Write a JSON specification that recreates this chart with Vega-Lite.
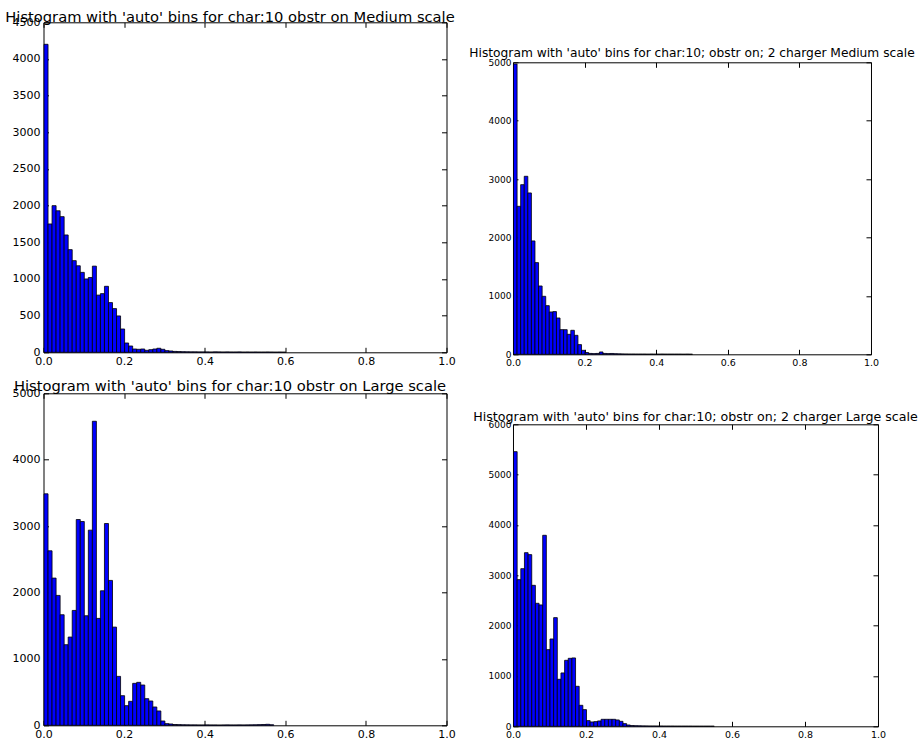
{
  "$schema": "https://vega.github.io/schema/vega-lite/v6.json",
  "background": "white",
  "padding": {"left": 4.5, "top": 8.3, "right": 2, "bottom": 2},
  "config": {
    "font": "DejaVu Sans",
    "view": {"stroke": "#000000", "strokeWidth": 1},
    "axis": {"grid": false, "domain": false, "title": null, "tickColor": "#000000", "tickWidth": 1, "tickSize": -5, "labelColor": "#000000", "labelFont": "DejaVu Sans", "labelFlush": false, "labelOverlap": false},
    "title": {"font": "DejaVu Sans", "fontWeight": "normal", "color": "#000000", "baseline": "alphabetic", "anchor": "middle"}
  },
  "datasets": {
    "p1": [
      {"b0":0.00,"b1":0.01,"n":4200},{"b0":0.01,"b1":0.02,"n":1750},{"b0":0.02,"b1":0.03,"n":2000},{"b0":0.03,"b1":0.04,"n":1930},{"b0":0.04,"b1":0.05,"n":1850},
      {"b0":0.05,"b1":0.06,"n":1600},{"b0":0.06,"b1":0.07,"n":1400},{"b0":0.07,"b1":0.08,"n":1250},{"b0":0.08,"b1":0.09,"n":1180},{"b0":0.09,"b1":0.10,"n":1090},
      {"b0":0.10,"b1":0.11,"n":1000},{"b0":0.11,"b1":0.12,"n":1020},{"b0":0.12,"b1":0.13,"n":1175},{"b0":0.13,"b1":0.14,"n":780},{"b0":0.14,"b1":0.15,"n":800},
      {"b0":0.15,"b1":0.16,"n":900},{"b0":0.16,"b1":0.17,"n":678},{"b0":0.17,"b1":0.18,"n":596},{"b0":0.18,"b1":0.19,"n":496},{"b0":0.19,"b1":0.20,"n":318},
      {"b0":0.20,"b1":0.21,"n":127},{"b0":0.21,"b1":0.22,"n":86},{"b0":0.22,"b1":0.23,"n":45},{"b0":0.23,"b1":0.24,"n":41},{"b0":0.24,"b1":0.25,"n":45},
      {"b0":0.25,"b1":0.26,"n":27},{"b0":0.26,"b1":0.27,"n":36},{"b0":0.27,"b1":0.28,"n":45},{"b0":0.28,"b1":0.29,"n":55},{"b0":0.29,"b1":0.30,"n":41},
      {"b0":0.30,"b1":0.31,"n":23},{"b0":0.31,"b1":0.32,"n":18},{"b0":0.32,"b1":0.33,"n":12},{"b0":0.33,"b1":0.34,"n":10},{"b0":0.34,"b1":0.35,"n":8},
      {"b0":0.35,"b1":0.36,"n":7},{"b0":0.36,"b1":0.37,"n":6},{"b0":0.37,"b1":0.38,"n":6},{"b0":0.38,"b1":0.39,"n":5},{"b0":0.39,"b1":0.40,"n":5},
      {"b0":0.40,"b1":0.41,"n":5},{"b0":0.41,"b1":0.42,"n":4},{"b0":0.42,"b1":0.43,"n":6},{"b0":0.43,"b1":0.44,"n":5},{"b0":0.44,"b1":0.45,"n":4},
      {"b0":0.45,"b1":0.46,"n":5},{"b0":0.46,"b1":0.47,"n":4},{"b0":0.47,"b1":0.48,"n":4},{"b0":0.48,"b1":0.49,"n":5},{"b0":0.49,"b1":0.50,"n":3},
      {"b0":0.50,"b1":0.51,"n":4},{"b0":0.51,"b1":0.52,"n":3},{"b0":0.52,"b1":0.53,"n":4},{"b0":0.53,"b1":0.54,"n":3},{"b0":0.54,"b1":0.55,"n":3},
      {"b0":0.55,"b1":0.56,"n":4},{"b0":0.56,"b1":0.57,"n":3},{"b0":0.57,"b1":0.58,"n":2},{"b0":0.58,"b1":0.59,"n":3},{"b0":0.59,"b1":0.60,"n":2}
    ],
    "p2": [
      {"b0":0.00,"b1":0.01,"n":4970},{"b0":0.01,"b1":0.02,"n":2534},{"b0":0.02,"b1":0.03,"n":2905},{"b0":0.03,"b1":0.04,"n":3048},{"b0":0.04,"b1":0.05,"n":2763},
      {"b0":0.05,"b1":0.06,"n":1941},{"b0":0.06,"b1":0.07,"n":1570},{"b0":0.07,"b1":0.08,"n":1170},{"b0":0.08,"b1":0.09,"n":993},{"b0":0.09,"b1":0.10,"n":833},
      {"b0":0.10,"b1":0.11,"n":725},{"b0":0.11,"b1":0.12,"n":731},{"b0":0.12,"b1":0.13,"n":622},{"b0":0.13,"b1":0.14,"n":422},{"b0":0.14,"b1":0.15,"n":422},
      {"b0":0.15,"b1":0.16,"n":342},{"b0":0.16,"b1":0.17,"n":411},{"b0":0.17,"b1":0.18,"n":325},{"b0":0.18,"b1":0.19,"n":166},{"b0":0.19,"b1":0.20,"n":68},
      {"b0":0.20,"b1":0.21,"n":30},{"b0":0.21,"b1":0.22,"n":15},{"b0":0.22,"b1":0.23,"n":12},{"b0":0.23,"b1":0.24,"n":15},{"b0":0.24,"b1":0.25,"n":40},
      {"b0":0.25,"b1":0.26,"n":15},{"b0":0.26,"b1":0.27,"n":12},{"b0":0.27,"b1":0.28,"n":14},{"b0":0.28,"b1":0.29,"n":10},{"b0":0.29,"b1":0.30,"n":8},
      {"b0":0.30,"b1":0.31,"n":6},{"b0":0.31,"b1":0.32,"n":5},{"b0":0.32,"b1":0.33,"n":4},{"b0":0.33,"b1":0.34,"n":4},{"b0":0.34,"b1":0.35,"n":3},
      {"b0":0.35,"b1":0.36,"n":3},{"b0":0.36,"b1":0.37,"n":3},{"b0":0.37,"b1":0.38,"n":2},{"b0":0.38,"b1":0.39,"n":3},{"b0":0.39,"b1":0.40,"n":2},
      {"b0":0.40,"b1":0.41,"n":2},{"b0":0.41,"b1":0.42,"n":3},{"b0":0.42,"b1":0.43,"n":2},{"b0":0.43,"b1":0.44,"n":2},{"b0":0.44,"b1":0.45,"n":2},
      {"b0":0.45,"b1":0.46,"n":2},{"b0":0.46,"b1":0.47,"n":2},{"b0":0.47,"b1":0.48,"n":1},{"b0":0.48,"b1":0.49,"n":2},{"b0":0.49,"b1":0.50,"n":1}
    ],
    "p3": [
      {"b0":0.00,"b1":0.01,"n":3486},{"b0":0.01,"b1":0.02,"n":2628},{"b0":0.02,"b1":0.03,"n":2217},{"b0":0.03,"b1":0.04,"n":1956},{"b0":0.04,"b1":0.05,"n":1665},
      {"b0":0.05,"b1":0.06,"n":1214},{"b0":0.06,"b1":0.07,"n":1329},{"b0":0.07,"b1":0.08,"n":1730},{"b0":0.08,"b1":0.09,"n":3099},{"b0":0.09,"b1":0.10,"n":3069},
      {"b0":0.10,"b1":0.11,"n":1650},{"b0":0.11,"b1":0.12,"n":2939},{"b0":0.12,"b1":0.13,"n":4579},{"b0":0.13,"b1":0.14,"n":1610},{"b0":0.14,"b1":0.15,"n":2026},
      {"b0":0.15,"b1":0.16,"n":3039},{"b0":0.16,"b1":0.17,"n":2182},{"b0":0.17,"b1":0.18,"n":1479},{"b0":0.18,"b1":0.19,"n":737},{"b0":0.19,"b1":0.20,"n":446},
      {"b0":0.20,"b1":0.21,"n":296},{"b0":0.21,"b1":0.22,"n":361},{"b0":0.22,"b1":0.23,"n":632},{"b0":0.23,"b1":0.24,"n":647},{"b0":0.24,"b1":0.25,"n":607},
      {"b0":0.25,"b1":0.26,"n":401},{"b0":0.26,"b1":0.27,"n":366},{"b0":0.27,"b1":0.28,"n":276},{"b0":0.28,"b1":0.29,"n":216},{"b0":0.29,"b1":0.30,"n":65},
      {"b0":0.30,"b1":0.31,"n":25},{"b0":0.31,"b1":0.32,"n":20},{"b0":0.32,"b1":0.33,"n":12},{"b0":0.33,"b1":0.34,"n":10},{"b0":0.34,"b1":0.35,"n":8},
      {"b0":0.35,"b1":0.36,"n":7},{"b0":0.36,"b1":0.37,"n":6},{"b0":0.37,"b1":0.38,"n":6},{"b0":0.38,"b1":0.39,"n":5},{"b0":0.39,"b1":0.40,"n":5},
      {"b0":0.40,"b1":0.41,"n":6},{"b0":0.41,"b1":0.42,"n":5},{"b0":0.42,"b1":0.43,"n":5},{"b0":0.43,"b1":0.44,"n":4},{"b0":0.44,"b1":0.45,"n":5},
      {"b0":0.45,"b1":0.46,"n":6},{"b0":0.46,"b1":0.47,"n":5},{"b0":0.47,"b1":0.48,"n":5},{"b0":0.48,"b1":0.49,"n":6},{"b0":0.49,"b1":0.50,"n":5},
      {"b0":0.50,"b1":0.51,"n":6},{"b0":0.51,"b1":0.52,"n":7},{"b0":0.52,"b1":0.53,"n":8},{"b0":0.53,"b1":0.54,"n":10},{"b0":0.54,"b1":0.55,"n":12},
      {"b0":0.55,"b1":0.56,"n":15},{"b0":0.56,"b1":0.57,"n":8}
    ],
    "p4": [
      {"b0":0.00,"b1":0.01,"n":5457},{"b0":0.01,"b1":0.02,"n":2914},{"b0":0.02,"b1":0.03,"n":3132},{"b0":0.03,"b1":0.04,"n":3450},{"b0":0.04,"b1":0.05,"n":3411},
      {"b0":0.05,"b1":0.06,"n":2801},{"b0":0.06,"b1":0.07,"n":2444},{"b0":0.07,"b1":0.08,"n":2411},{"b0":0.08,"b1":0.09,"n":3795},{"b0":0.09,"b1":0.10,"n":1523},
      {"b0":0.10,"b1":0.11,"n":1735},{"b0":0.11,"b1":0.12,"n":2159},{"b0":0.12,"b1":0.13,"n":934},{"b0":0.13,"b1":0.14,"n":1060},{"b0":0.14,"b1":0.15,"n":1311},
      {"b0":0.15,"b1":0.16,"n":1351},{"b0":0.16,"b1":0.17,"n":1358},{"b0":0.17,"b1":0.18,"n":795},{"b0":0.18,"b1":0.19,"n":417},{"b0":0.19,"b1":0.20,"n":331},
      {"b0":0.20,"b1":0.21,"n":113},{"b0":0.21,"b1":0.22,"n":86},{"b0":0.22,"b1":0.23,"n":93},{"b0":0.23,"b1":0.24,"n":106},{"b0":0.24,"b1":0.25,"n":139},
      {"b0":0.25,"b1":0.26,"n":139},{"b0":0.26,"b1":0.27,"n":139},{"b0":0.27,"b1":0.28,"n":139},{"b0":0.28,"b1":0.29,"n":126},{"b0":0.29,"b1":0.30,"n":99},
      {"b0":0.30,"b1":0.31,"n":53},{"b0":0.31,"b1":0.32,"n":26},{"b0":0.32,"b1":0.33,"n":15},{"b0":0.33,"b1":0.34,"n":12},{"b0":0.34,"b1":0.35,"n":10},
      {"b0":0.35,"b1":0.36,"n":8},{"b0":0.36,"b1":0.37,"n":7},{"b0":0.37,"b1":0.38,"n":6},{"b0":0.38,"b1":0.39,"n":6},{"b0":0.39,"b1":0.40,"n":5},
      {"b0":0.40,"b1":0.41,"n":5},{"b0":0.41,"b1":0.42,"n":4},{"b0":0.42,"b1":0.43,"n":4},{"b0":0.43,"b1":0.44,"n":4},{"b0":0.44,"b1":0.45,"n":3},
      {"b0":0.45,"b1":0.46,"n":3},{"b0":0.46,"b1":0.47,"n":3},{"b0":0.47,"b1":0.48,"n":3},{"b0":0.48,"b1":0.49,"n":3},{"b0":0.49,"b1":0.50,"n":2},
      {"b0":0.50,"b1":0.51,"n":2},{"b0":0.51,"b1":0.52,"n":2},{"b0":0.52,"b1":0.53,"n":2},{"b0":0.53,"b1":0.54,"n":2},{"b0":0.54,"b1":0.55,"n":2}
    ]
  },
  "hconcat": [
    {
      "vconcat": [
        {
          "width": 403, "height": 330,
          "title": {"text": "Histogram with 'auto' bins for char:10 obstr on Medium scale", "fontSize": 14.7, "dx": -15, "offset": -8},
          "data": {"name": "p1"},
          "layer": [
            {"mark": {"type": "bar", "fill": "#0000ff", "stroke": "#000000", "strokeWidth": 0.8, "binSpacing": 0},
             "encoding": {
               "x": {"field": "b0", "type": "quantitative", "bin": "binned", "scale": {"domain": [0, 1], "nice": false},
                     "axis": {"orient": "bottom", "values": [0, 0.2, 0.4, 0.6, 0.8, 1], "format": ".1f", "labelFontSize": 11, "labelPadding": 8}},
               "x2": {"field": "b1"},
               "y": {"field": "n", "type": "quantitative", "scale": {"domain": [0, 4500], "nice": false},
                     "axis": {"orient": "left", "values": [0, 500, 1000, 1500, 2000, 2500, 3000, 3500, 4000, 4500], "format": "d", "labelFontSize": 11, "labelPadding": 8.5}}
             }},
            {"mark": {"type": "point", "opacity": 0},
             "encoding": {
               "x": {"field": "b0", "type": "quantitative", "axis": {"orient": "top", "values": [0, 0.2, 0.4, 0.6, 0.8, 1], "labels": false}},
               "y": {"field": "n", "type": "quantitative", "axis": {"orient": "right", "values": [0, 500, 1000, 1500, 2000, 2500, 3000, 3500, 4000, 4500], "labels": false}}
             }}
          ],
          "resolve": {"axis": {"x": "independent", "y": "independent"}}
        },
        {
          "width": 403, "height": 332,
          "title": {"text": "Histogram with 'auto' bins for char:10 obstr on Large scale", "fontSize": 14.7, "dx": -15, "offset": -6.8},
          "data": {"name": "p3"},
          "layer": [
            {"mark": {"type": "bar", "fill": "#0000ff", "stroke": "#000000", "strokeWidth": 0.8, "binSpacing": 0},
             "encoding": {
               "x": {"field": "b0", "type": "quantitative", "bin": "binned", "scale": {"domain": [0, 1], "nice": false},
                     "axis": {"orient": "bottom", "values": [0, 0.2, 0.4, 0.6, 0.8, 1], "format": ".1f", "labelFontSize": 11, "labelPadding": 8}},
               "x2": {"field": "b1"},
               "y": {"field": "n", "type": "quantitative", "scale": {"domain": [0, 5000], "nice": false},
                     "axis": {"orient": "left", "values": [0, 1000, 2000, 3000, 4000, 5000], "format": "d", "labelFontSize": 11, "labelPadding": 8.5}}
             }},
            {"mark": {"type": "point", "opacity": 0},
             "encoding": {
               "x": {"field": "b0", "type": "quantitative", "axis": {"orient": "top", "values": [0, 0.2, 0.4, 0.6, 0.8, 1], "labels": false}},
               "y": {"field": "n", "type": "quantitative", "axis": {"orient": "right", "values": [0, 1000, 2000, 3000, 4000, 5000], "labels": false}}
             }}
          ],
          "resolve": {"axis": {"x": "independent", "y": "independent"}}
        }
      ],
      "spacing": 41,
      "bounds": "flush",
      "align": "none"
    },
    {
      "vconcat": [
        {"width": 10, "height": 24, "data": {"values": []}, "mark": "point", "view": {"stroke": null}},
        {
          "vconcat": [
            {
              "width": 358, "height": 292,
              "title": {"text": "Histogram with 'auto' bins for char:10; obstr on; 2 charger Medium scale", "fontSize": 12.25, "offset": -0.8},
              "data": {"name": "p2"},
              "layer": [
                {"mark": {"type": "bar", "fill": "#0000ff", "stroke": "#000000", "strokeWidth": 0.8, "binSpacing": 0},
                 "encoding": {
                   "x": {"field": "b0", "type": "quantitative", "bin": "binned", "scale": {"domain": [0, 1], "nice": false},
                         "axis": {"orient": "bottom", "values": [0, 0.2, 0.4, 0.6, 0.8, 1], "format": ".1f", "labelFontSize": 9.5, "labelPadding": 8}},
                   "x2": {"field": "b1"},
                   "y": {"field": "n", "type": "quantitative", "scale": {"domain": [0, 5000], "nice": false},
                         "axis": {"orient": "left", "values": [0, 1000, 2000, 3000, 4000, 5000], "format": "d", "labelFontSize": 9, "labelPadding": 7}}
                 }},
                {"mark": {"type": "point", "opacity": 0},
                 "encoding": {
                   "x": {"field": "b0", "type": "quantitative", "axis": {"orient": "top", "values": [0, 0.2, 0.4, 0.6, 0.8, 1], "labels": false}},
                   "y": {"field": "n", "type": "quantitative", "axis": {"orient": "right", "values": [0, 1000, 2000, 3000, 4000, 5000], "labels": false}}
                 }}
              ],
              "resolve": {"axis": {"x": "independent", "y": "independent"}}
            },
            {
              "width": 365, "height": 302,
              "title": {"text": "Histogram with 'auto' bins for char:10; obstr on; 2 charger Large scale", "fontSize": 12.65, "offset": -2.9},
              "data": {"name": "p4"},
              "layer": [
                {"mark": {"type": "bar", "fill": "#0000ff", "stroke": "#000000", "strokeWidth": 0.8, "binSpacing": 0},
                 "encoding": {
                   "x": {"field": "b0", "type": "quantitative", "bin": "binned", "scale": {"domain": [0, 1], "nice": false},
                         "axis": {"orient": "bottom", "values": [0, 0.2, 0.4, 0.6, 0.8, 1], "format": ".1f", "labelFontSize": 9.5, "labelPadding": 8}},
                   "x2": {"field": "b1"},
                   "y": {"field": "n", "type": "quantitative", "scale": {"domain": [0, 6000], "nice": false},
                         "axis": {"orient": "left", "values": [0, 1000, 2000, 3000, 4000, 5000, 6000], "format": "d", "labelFontSize": 9, "labelPadding": 7}}
                 }},
                {"mark": {"type": "point", "opacity": 0},
                 "encoding": {
                   "x": {"field": "b0", "type": "quantitative", "axis": {"orient": "top", "values": [0, 0.2, 0.4, 0.6, 0.8, 1], "labels": false}},
                   "y": {"field": "n", "type": "quantitative", "axis": {"orient": "right", "values": [0, 1000, 2000, 3000, 4000, 5000, 6000], "labels": false}}
                 }}
              ],
              "resolve": {"axis": {"x": "independent", "y": "independent"}}
            }
          ],
          "spacing": 70,
          "bounds": "flush",
          "align": "none"
        }
      ],
      "spacing": 0,
      "align": "none"
    }
  ],
  "spacing": 11.5,
  "align": "none"
}
